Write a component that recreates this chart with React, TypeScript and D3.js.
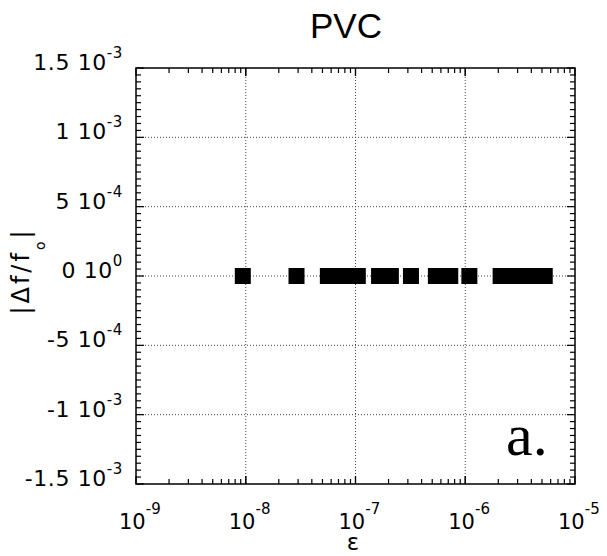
import React, { useEffect, useRef } from 'react';
import * as d3 from 'd3';

// strain amplitudes
const epsValues = [
  9.4e-9, 2.9e-8,
  5.6e-8, 6.5e-8, 7.5e-8, 8.7e-8, 1.05e-7,
  1.64e-7, 1.85e-7, 2.1e-7,
  3.2e-7,
  5.4e-7, 6.2e-7, 7.3e-7,
  1.09e-6,
  2.1e-6, 2.5e-6, 3.0e-6, 3.6e-6, 4.3e-6, 5.3e-6,
];
const dfValues = epsValues.map(() => 0);

const xTickExps = [-9, -8, -7, -6, -5];
const yTicks = [1.5e-3, 1e-3, 5e-4, 0, -5e-4, -1e-3, -1.5e-3];
const yTickLabels = [
  ['1.5 10', '-3'], ['1 10', '-3'], ['5 10', '-4'], ['0 10', '0'],
  ['-5 10', '-4'], ['-1 10', '-3'], ['-1.5 10', '-3'],
];

const font = "'DejaVu Sans', 'Liberation Sans', sans-serif";

const App = () => {
  const ref = useRef<SVGSVGElement | null>(null);

  useEffect(() => {
    const svg = d3.select(ref.current);
    svg.selectAll('*').remove();

    const width = 607;
    const height = 556;
    const left = 136, right = 575, top = 68, bottom = 484;

    const x = d3.scaleLog().domain([1e-9, 1e-5]).range([left, right]);
    const y = d3.scaleLinear().domain([-1.5e-3, 1.5e-3]).range([bottom, top]);

    svg.append('rect').attr('width', width).attr('height', height).attr('fill', '#fff');

    // 网格线
    const grid = svg.append('g');
    xTickExps.slice(1, -1).forEach(e => {
      grid.append('line')
        .attr('x1', x(Math.pow(10, e))).attr('x2', x(Math.pow(10, e)))
        .attr('y1', top).attr('y2', bottom)
        .attr('stroke', '#444').attr('stroke-width', 1).attr('stroke-dasharray', '1,2');
    });
    yTicks.slice(1, -1).forEach(v => {
      grid.append('line')
        .attr('x1', left).attr('x2', right)
        .attr('y1', y(v)).attr('y2', y(v))
        .attr('stroke', '#444').attr('stroke-width', 1).attr('stroke-dasharray', '1,2');
    });

    // minor ticks
    const ticks = svg.append('g').attr('stroke', '#000').attr('stroke-width', 1.2);
    for (let e = -9; e < -5; e++) {
      for (let m = 1; m <= 10; m++) {
        const v = m * Math.pow(10, e);
        const len = m === 1 || m === 10 ? 8 : 5;
        const px = x(v);
        ticks.append('line').attr('x1', px).attr('x2', px).attr('y1', bottom).attr('y2', bottom - len);
        ticks.append('line').attr('x1', px).attr('x2', px).attr('y1', top).attr('y2', top + len);
      }
    }
    d3.range(-30, 31).forEach(i => {
      const v = i * 5e-5;
      const len = i % 10 === 0 ? 8 : 5;
      ticks.append('line').attr('x1', left).attr('x2', left + len).attr('y1', y(v)).attr('y2', y(v));
      ticks.append('line').attr('x1', right).attr('x2', right - len).attr('y1', y(v)).attr('y2', y(v));
    });

    // frame
    svg.append('rect')
      .attr('x', left).attr('y', top)
      .attr('width', right - left).attr('height', bottom - top)
      .attr('fill', 'none').attr('stroke', '#000').attr('stroke-width', 1.5);

    // data squares
    const sz = 16;
    svg.append('g').selectAll('rect')
      .data(epsValues.map((e, i) => ({ e, d: dfValues[i] })))
      .join('rect')
      .attr('x', d => x(d.e) - sz / 2)
      .attr('y', d => y(d.d) - sz / 2)
      .attr('width', sz).attr('height', sz)
      .attr('fill', '#000');

    // x tick labels
    xTickExps.forEach(e => {
      const t = svg.append('text')
        .attr('x', x(Math.pow(10, e)) - 17)
        .attr('y', 529)
        .style('font-family', font).style('font-size', '21px').attr('fill', '#000');
      t.append('tspan').text('10');
      t.append('tspan').attr('dy', -15).style('font-size', '15px').text(`${e}`);
    });

    // y tick labels
    yTicks.forEach((v, i) => {
      const t = svg.append('text')
        .attr('x', 123)
        .attr('y', y(v) + 2)
        .attr('text-anchor', 'end')
        .style('font-family', font).style('font-size', '22px')
        .style('letter-spacing', '0.6px').attr('fill', '#000');
      t.append('tspan').text(yTickLabels[i][0]);
      t.append('tspan').attr('dy', -12).style('font-size', '15px').text(yTickLabels[i][1]);
    });

    // title
    svg.append('text')
      .attr('x', 346).attr('y', 38)
      .attr('text-anchor', 'middle')
      .style('font-family', "'Liberation Sans', Arial, sans-serif").style('font-size', '35px').attr('fill', '#000')
      .text('PVC');

    // x axis label
    svg.append('text')
      .attr('x', 353).attr('y', 550)
      .attr('text-anchor', 'middle')
      .style('font-family', font).style('font-size', '23px').attr('fill', '#000')
      .text('ε');

    // y axis label
    const yl = svg.append('text')
      .attr('transform', 'translate(29, 271) rotate(-90)')
      .attr('text-anchor', 'middle')
      .style('font-family', font).style('font-size', '24px')
      .style('letter-spacing', '3px').attr('fill', '#000');
    yl.append('tspan').text('|Δf/f');
    yl.append('tspan').attr('dy', 16).style('font-size', '14px').text('o');
    yl.append('tspan').attr('dy', -16).text('|');

    // panel label
    svg.append('text')
      .attr('x', 506).attr('y', 455)
      .style('font-family', "'Liberation Serif', 'Times New Roman', serif")
      .style('font-size', '60px').attr('fill', '#000')
      .text('a.');
  }, []);

  return (
    <svg
      ref={ref}
      width={607}
      height={556}
      style={{ position: 'absolute', left: 0, top: 0, display: 'block' }}
    />
  );
};

export default App;
